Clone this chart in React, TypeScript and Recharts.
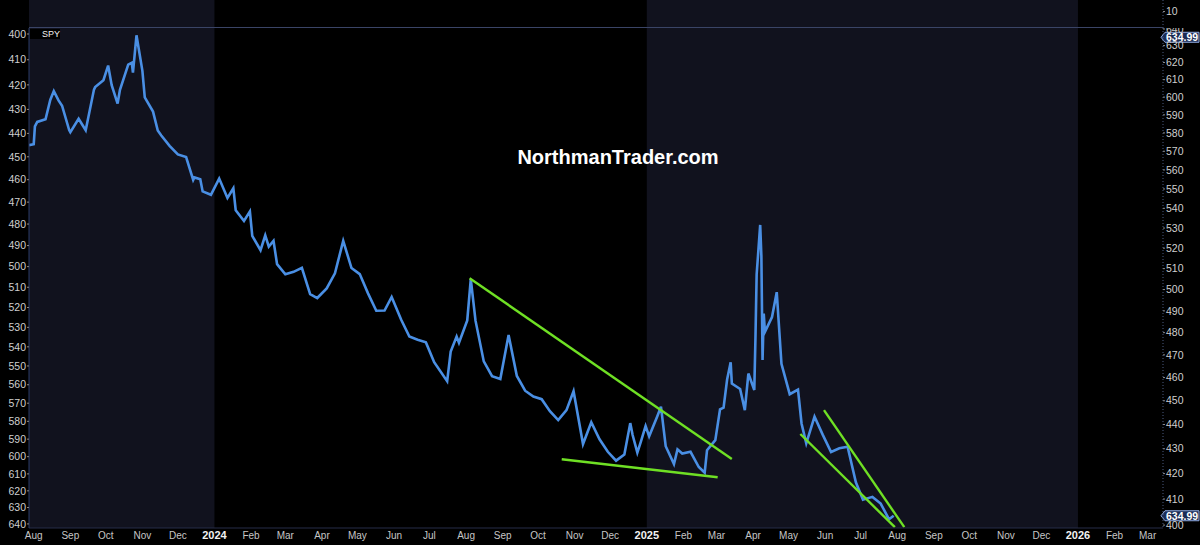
import React from 'react';
import { ComposedChart, Line, XAxis, YAxis, ReferenceArea, ReferenceLine } from 'recharts';

const priceDates = [
  '2023-07-28', '2023-08-01', '2023-08-02', '2023-08-04', '2023-08-11', '2023-08-15', '2023-08-18', '2023-08-22',
  '2023-08-25', '2023-08-31', '2023-09-01', '2023-09-08', '2023-09-14', '2023-09-21', '2023-09-22', '2023-09-29',
  '2023-10-03', '2023-10-06', '2023-10-11', '2023-10-13', '2023-10-20', '2023-10-23', '2023-10-24', '2023-10-27',
  '2023-11-01', '2023-11-03', '2023-11-10', '2023-11-14', '2023-11-17', '2023-11-24', '2023-12-01', '2023-12-08',
  '2023-12-14', '2023-12-15', '2023-12-20', '2023-12-22', '2023-12-29',
  '2024-01-05', '2024-01-12', '2024-01-17', '2024-01-19', '2024-01-26', '2024-01-31', '2024-02-02', '2024-02-09',
  '2024-02-13', '2024-02-16', '2024-02-20', '2024-02-23', '2024-03-01', '2024-03-08', '2024-03-15', '2024-03-22',
  '2024-03-28', '2024-04-05', '2024-04-12', '2024-04-19', '2024-04-26', '2024-05-03', '2024-05-10', '2024-05-17',
  '2024-05-24', '2024-05-30', '2024-06-07', '2024-06-14', '2024-06-21', '2024-06-28', '2024-07-05', '2024-07-16',
  '2024-07-19', '2024-07-24', '2024-07-26', '2024-08-02', '2024-08-05', '2024-08-09', '2024-08-16', '2024-08-23',
  '2024-08-30', '2024-09-06', '2024-09-13', '2024-09-20', '2024-09-27', '2024-10-04', '2024-10-11', '2024-10-18',
  '2024-10-25', '2024-10-31', '2024-11-08', '2024-11-15', '2024-11-22', '2024-11-29', '2024-12-06', '2024-12-13',
  '2024-12-18', '2024-12-20', '2024-12-24', '2024-12-27', '2024-12-31',
  '2025-01-03', '2025-01-10', '2025-01-13', '2025-01-17', '2025-01-24', '2025-01-27', '2025-01-31', '2025-02-07',
  '2025-02-14', '2025-02-19', '2025-02-21', '2025-02-28', '2025-03-04', '2025-03-07', '2025-03-10', '2025-03-13',
  '2025-03-14', '2025-03-21', '2025-03-25', '2025-03-28', '2025-04-02', '2025-04-03', '2025-04-04', '2025-04-07',
  '2025-04-08', '2025-04-09', '2025-04-10', '2025-04-11', '2025-04-17', '2025-04-21', '2025-04-25', '2025-05-02',
  '2025-05-09', '2025-05-12', '2025-05-16', '2025-05-23', '2025-05-30', '2025-06-06', '2025-06-13', '2025-06-20',
  '2025-06-27', '2025-07-03', '2025-07-11', '2025-07-18', '2025-07-25', '2025-07-29',
];

const priceValues = [
  445.0, 444.6, 437.1, 435.2, 434.1, 426.1, 422.5, 426.3,
  428.5, 438.6, 439.5, 433.9, 438.7, 421.9, 420.9, 418.1,
  412.3, 420.1, 427.6, 422.0, 411.9, 411.2, 415.1, 400.5,
  414.4, 425.1, 430.9, 438.8, 440.9, 445.3, 449.0, 450.1,
  460.1, 459.0, 459.8, 465.2, 466.7,
  459.5, 468.1, 463.8, 473.7, 478.6, 474.2, 485.5, 492.2,
  485.2, 490.5, 487.8, 498.8, 503.7, 502.5, 500.6, 513.4,
  515.3, 510.6, 503.2, 487.8, 500.7, 503.6, 513.0, 521.6,
  521.5, 514.8, 526.0, 534.7, 536.3, 537.7, 548.0, 558.1,
  542.4, 534.7, 537.9, 526.5, 506.0, 526.6, 547.6, 555.4,
  556.9, 533.9, 555.3, 563.2, 566.4, 567.8, 574.4, 579.3,
  573.8, 563.5, 592.8, 580.5, 590.1, 597.2, 602.3, 598.8,
  581.0, 587.7, 597.7, 591.4, 582.6,
  588.4, 577.0, 571.9, 594.0, 604.3, 595.8, 598.2, 597.2,
  606.0, 609.3, 596.3, 590.6, 573.4, 572.4, 557.2, 548.1,
  559.4, 562.3, 573.8, 554.0, 562.8, 535.1, 503.8, 480.4,
  495.0, 546.9, 523.0, 532.3, 524.8, 512.4, 548.9, 565.1,
  562.6, 581.2, 592.4, 577.4, 587.6, 597.3, 595.2, 594.3,
  614.9, 625.3, 623.6, 627.6, 637.1, 634.99,
];

const lastPrice = 634.99;

const monthTickDates = [
  '2023-08-01', '2023-09-01', '2023-10-01', '2023-11-01', '2023-12-01',
  '2024-01-01', '2024-02-01', '2024-03-01', '2024-04-01', '2024-05-01', '2024-06-01',
  '2024-07-01', '2024-08-01', '2024-09-01', '2024-10-01', '2024-11-01', '2024-12-01',
  '2025-01-01', '2025-02-01', '2025-03-01', '2025-04-01', '2025-05-01', '2025-06-01',
  '2025-07-01', '2025-08-01', '2025-09-01', '2025-10-01', '2025-11-01', '2025-12-01',
  '2026-01-01', '2026-02-01', '2026-03-01',
];
const monthTickLabels = [
  'Aug', 'Sep', 'Oct', 'Nov', 'Dec',
  '2024', 'Feb', 'Mar', 'Apr', 'May', 'Jun', 'Jul', 'Aug', 'Sep', 'Oct', 'Nov', 'Dec',
  '2025', 'Feb', 'Mar', 'Apr', 'May', 'Jun', 'Jul', 'Aug', 'Sep', 'Oct', 'Nov', 'Dec',
  '2026', 'Feb', 'Mar',
];

const priceTicks = [400, 410, 420, 430, 440, 450, 460, 470, 480, 490, 500, 510, 520, 530, 540, 550, 560, 570, 580, 590, 600, 610, 620, 630, 640];

// shaded years (odd years get the navy background)
const shadedSpans = [
  ['2023-07-28', '2024-01-01'],
  ['2025-01-01', '2026-01-01'],
];

// green trend lines: [startDate, startPrice, endDate, endPrice]
const trendLines: [string, number, string, number][] = [
  ['2024-08-04', 505.6, '2025-03-14', 601.3],
  ['2024-10-21', 601.5, '2025-03-02', 612.0],
  ['2025-05-31', 573.8, '2025-08-07', 642.0],
  ['2025-05-11', 587.1, '2025-07-30', 642.0],
];

const toDay = (s: string) => Date.UTC(+s.slice(0, 4), +s.slice(5, 7) - 1, +s.slice(8, 10)) / 86400000;

const xStart = toDay('2023-07-28');
const xEnd = toDay('2026-03-14');
const tickDays = monthTickDates.map(toDay);

const data = priceDates.map((d, i) => ({ t: toDay(d), spy: priceValues[i] }));

const font = "Arial, 'Liberation Sans', sans-serif";
const NAVY = '#11121e';
const GREEN = '#6fe024';
const BLUE = '#4a8fe4';

const MonthTick = (props: any) => {
  const { x, y, payload } = props;
  const label = monthTickLabels[tickDays.indexOf(payload.value)] || '';
  const isYear = /^\d{4}$/.test(label);
  return (
    <text x={x} y={y + 11} textAnchor="middle" fontFamily={font}
      fontSize={isYear ? 11 : 10} fontWeight={isYear ? 'bold' : 'normal'}
      fill={isYear ? '#f2f2f2' : '#c6c6c6'}>
      {label}
    </text>
  );
};

const PriceTag = (props: any) => {
  const { viewBox } = props;
  if (!viewBox) return null;
  const x0 = viewBox.x + viewBox.width - 2;
  const cy = viewBox.y;
  return (
    <g>
      <path d={`M${x0},${cy} L${x0 + 4},${cy - 5} L${x0 + 38},${cy - 5} L${x0 + 38},${cy + 5} L${x0 + 4},${cy + 5} Z`}
        fill="#1b2c55" stroke="#8fa9de" strokeWidth={1} />
      <text x={x0 + 5} y={cy + 4} fill="#ffffff" fontSize={10.5} fontWeight="bold" fontFamily={font}>
        {lastPrice.toFixed(2)}
      </text>
    </g>
  );
};

export default function App() {
  return (
    <div style={{ position: 'relative', width: 1200, height: 545, background: '#000', overflow: 'hidden' }}>
      <style>{'body{margin:0;background:#000}'}</style>

      {/* small upper pane */}
      <div style={{ position: 'absolute', left: 0, top: 0 }}>
        <ComposedChart width={1200} height={28} data={data} margin={{ top: 0, right: 0, bottom: 0, left: 29 }}>
          <XAxis dataKey="t" type="number" domain={[xStart, xEnd]} allowDataOverflow hide />
          <YAxis yAxisId="P" orientation="right" type="number" domain={[0, 17]} ticks={[10]} width={37}
            allowDataOverflow tickSize={2} tickMargin={1}
            axisLine={{ stroke: '#4a5a80', strokeDasharray: '1 2' }} tickLine={{ stroke: '#8a8a8a' }}
            tick={{ fill: '#cfcfcf', fontSize: 10.5, fontFamily: font }} />
          {shadedSpans.map(([a, b], i) => (
            <ReferenceArea key={i} yAxisId="P" x1={toDay(a)} x2={toDay(b)} fill={NAVY} fillOpacity={1} stroke="none" />
          ))}
        </ComposedChart>
      </div>

      {/* main pane */}
      <div style={{ position: 'absolute', left: 0, top: 28 }}>
        <ComposedChart width={1200} height={517} data={data} margin={{ top: 0, right: 0, bottom: 0, left: 0 }}>
          <XAxis dataKey="t" type="number" domain={[xStart, xEnd]} allowDataOverflow ticks={tickDays} interval={0}
            height={17} tickSize={0} tickMargin={0} tickLine={false}
            axisLine={{ stroke: '#262d48' }} tick={<MonthTick />} />
          <YAxis yAxisId="L" orientation="left" type="number" scale="log" reversed
            domain={[397.7, 642.5]} allowDataOverflow ticks={priceTicks} interval={0} width={29}
            tickSize={2} tickMargin={1} axisLine={{ stroke: '#2a3a66' }} tickLine={{ stroke: '#8a8a8a' }}
            tick={{ fill: '#cfcfcf', fontSize: 10.5, fontFamily: font }} />
          <YAxis yAxisId="R" orientation="right" type="number" scale="log"
            domain={[398.9, 640.6]} allowDataOverflow ticks={priceTicks} interval={0} width={37}
            tickSize={2} tickMargin={1} axisLine={{ stroke: '#4a5a80', strokeDasharray: '1 2' }}
            tickLine={{ stroke: '#8a8a8a' }}
            tick={{ fill: '#cfcfcf', fontSize: 10.5, fontFamily: font }} />

          {shadedSpans.map(([a, b], i) => (
            <ReferenceArea key={i} yAxisId="L" x1={toDay(a)} x2={toDay(b)} fill={NAVY} fillOpacity={1} stroke="none" />
          ))}

          <Line yAxisId="L" dataKey="spy" type="linear" stroke={BLUE} strokeWidth={2.6} dot={false}
            isAnimationActive={false} />

          {trendLines.map(([d1, p1, d2, p2], i) => (
            <ReferenceLine key={i} yAxisId="L" stroke={GREEN} strokeWidth={2.4} ifOverflow="visible"
              segment={[{ x: toDay(d1), y: p1 }, { x: toDay(d2), y: p2 }]} />
          ))}

          <ReferenceLine yAxisId="R" y={lastPrice} stroke="none" strokeOpacity={0} label={<PriceTag />} />
          <ReferenceLine yAxisId="L" y={lastPrice} stroke="none" strokeOpacity={0} label={<PriceTag />} />
        </ComposedChart>
      </div>

      {/* pane separator */}
      <div style={{ position: 'absolute', left: 29, top: 27, width: 1134, height: 1, background: '#3a4466' }} />

      {/* series label */}
      <div style={{
        position: 'absolute', left: 30, top: 29, width: 30, height: 10, background: '#000',
        color: '#f0f0f0', fontFamily: font, fontSize: 9, lineHeight: '10px', paddingLeft: 12, boxSizing: 'border-box',
      }}>SPY</div>

      {/* watermark */}
      <div style={{
        position: 'absolute', left: 618, top: 145, transform: 'translateX(-50%)', color: '#ffffff',
        fontFamily: font, fontSize: 20, fontWeight: 'bold', whiteSpace: 'nowrap', lineHeight: '24px',
      }}>NorthmanTrader.com</div>
    </div>
  );
}
